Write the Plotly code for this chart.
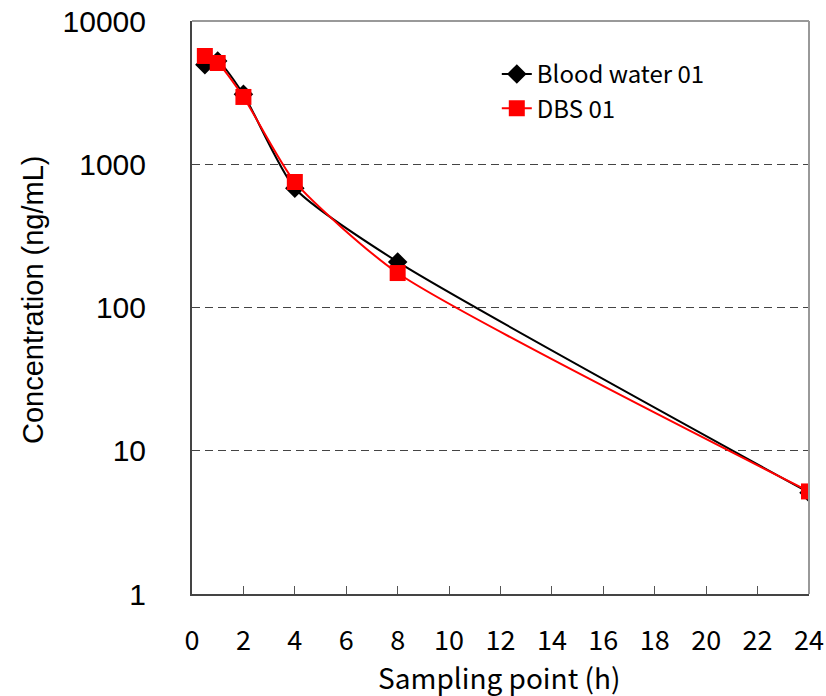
import plotly.graph_objects as go

# Sampling times (h) and measured concentrations (ng/mL)
time_h = [0.5, 1, 2, 4, 8, 24]
blood_water_01 = [4950, 5250, 3080, 680, 208, 5.1]
dbs_01 = [5700, 5090, 2950, 752, 174, 5.2]

x_ticks = list(range(0, 25, 2))
y_ticks = [1, 10, 100, 1000, 10000]

GOTHIC = "Noto Sans CJK JP, DejaVu Sans, sans-serif"
SANS = "Liberation Sans, Arial, sans-serif"

fig = go.Figure()

fig.add_trace(go.Scatter(
    x=time_h, y=blood_water_01, name="Blood water 01", legendgroup="bw",
    mode="lines+markers", line=dict(color="black", width=2, shape="spline", smoothing=0.6),
    marker=dict(symbol="diamond", size=15, color="black"),
))
fig.add_trace(go.Scatter(
    x=time_h, y=dbs_01, name="DBS 01", legendgroup="dbs",
    mode="lines+markers", line=dict(color="#ff0000", width=2, shape="spline", smoothing=0.6),
    marker=dict(symbol="square", size=16, color="#ff0000"),
))

# gray frame on the top and right of the plot area
fig.add_shape(type="line", xref="paper", yref="paper", x0=0, x1=1, y0=1, y1=1,
              line=dict(color="#999999", width=2))
fig.add_shape(type="line", xref="paper", yref="paper", x0=1, x1=1, y0=0, y1=1,
              line=dict(color="#999999", width=2))

# axis titles
fig.add_annotation(text="Concentration (ng/mL)", xref="paper", yref="paper",
                   x=0, y=0.513, xshift=-159, textangle=-90, showarrow=False,
                   xanchor="center", yanchor="middle",
                   font=dict(family=SANS, size=29, color="black"))
fig.add_annotation(text="Sampling point (h)", xref="paper", yref="paper",
                   x=0.4976, y=0, yshift=-83, showarrow=False,
                   xanchor="center", yanchor="middle",
                   font=dict(family=GOTHIC, size=28, color="black"))

fig.update_layout(
    width=826, height=696,
    margin=dict(l=192, r=17, t=21, b=102),
    paper_bgcolor="white", plot_bgcolor="white",
    font=dict(family=GOTHIC, color="black", size=22),
    showlegend=True,
    legend=dict(x=0.494, y=0.946, xanchor="left", yanchor="top",
                bgcolor="rgba(0,0,0,0)", font=dict(family=GOTHIC, size=24),
                traceorder="grouped", tracegroupgap=0),
    xaxis=dict(
        range=[0, 24], tickvals=x_ticks, ticktext=[str(v) for v in x_ticks],
        ticks="inside", ticklen=8, tickcolor="#555555", tickwidth=1,
        showline=True, linecolor="#444444", linewidth=2,
        showgrid=False, zeroline=False, automargin=False,
        ticklabelstandoff=22,
        tickfont=dict(family=GOTHIC, size=27),
    ),
    yaxis=dict(
        type="log", range=[0, 4], tickvals=y_ticks,
        ticktext=[str(v) for v in y_ticks],
        ticks="", showline=True, linecolor="#444444", linewidth=2,
        showgrid=True, gridcolor="#444444", gridwidth=1, griddash="8px,5px",
        zeroline=False, automargin=False,
        ticklabelstandoff=38,
        tickfont=dict(family=SANS, size=30),
    ),
)

fig.write_html("out.html")
